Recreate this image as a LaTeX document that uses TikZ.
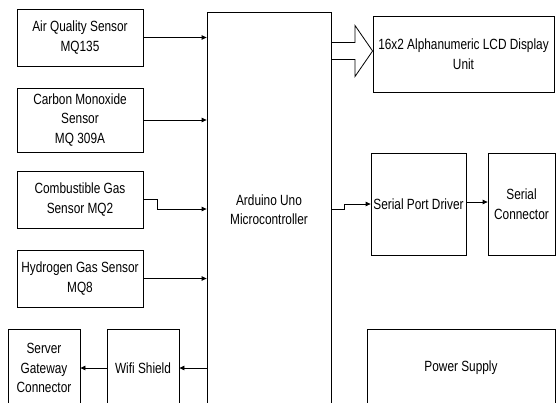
\documentclass[tikz,border=0pt]{standalone}
\usepackage{fontspec}
\setmainfont{Liberation Sans}[FakeStretch=0.80]
\usetikzlibrary{arrows.meta}
\begin{document}
\begin{tikzpicture}[x=1pt,y=-1pt,
  box/.style={draw, line width=0.8pt, rectangle, inner sep=0pt, align=center,
    font=\fontsize{14.8}{19.5}\selectfont},
  arr/.style={line width=0.8pt, -{Triangle[length=5pt,width=4.5pt]}},
  ln/.style={line width=0.8pt}]
\useasboundingbox (0,0) rectangle (556,402);
\clip (0,0) rectangle (556,402);
\fill[white] (0,0) rectangle (556,402);
% sensors
\node[box, minimum width=126, minimum height=57] (air) at (80,37.5) {Air Quality Sensor\\MQ135};
\node[box, minimum width=126, minimum height=64] (co) at (80,120) {Carbon Monoxide\\Sensor\\MQ 309A};
\node[box, minimum width=126, minimum height=57] (comb) at (80,199.5) {Combustible Gas\\Sensor MQ2};
\node[box, minimum width=126, minimum height=57] (hyd) at (80,278.5) {Hydrogen Gas Sensor\\MQ8};
\node[box, minimum width=72, minimum height=78] (srv) at (44,368) {Server\\Gateway\\Connector};
\node[box, minimum width=72, minimum height=78] (wifi) at (143,368) {Wifi Shield};
% controller
\node[box, minimum width=124, minimum height=395] (ard) at (269,209.5) {Arduino Uno\\Microcontroller};
% right side
\node[box, minimum width=181, minimum height=76] (lcd) at (463.5,54) {16x2 Alphanumeric LCD Display\\Unit};
\node[box, minimum width=95, minimum height=102] (spd) at (418.5,204) {Serial Port Driver};
\node[box, minimum width=67, minimum height=102] (sc) at (521.5,204) {Serial\\Connector};
\node[box, minimum width=188, minimum height=78] (ps) at (461,368) {Power Supply};
% sensor connectors
\draw[arr] (air.east) -- (ard.west |- air.east);
\draw[arr] (co.east) -- (ard.west |- co.east);
\draw[arr] (comb.east) -- ++(14,0) -- ++(0,9.5) -- (ard.west |- 0,209);
\draw[arr] (hyd.east) -- (ard.west |- hyd.east);
\draw[arr] (ard.west |- wifi.east) -- (wifi.east);
\draw[arr] (wifi.west) -- (srv.east);
% outputs
\draw[arr] (ard.east |- 0,209) -- ++(13,0) |- (spd.west);
\draw[arr] (spd.east |- 0,202) -- (sc.west |- 0,202);
% hollow bus arrow to LCD
\draw[ln, line join=miter] (ard.east |- 0,42.5) -- (355,42.5) -- (355,25.5)
  -- (lcd.west |- 0,51) -- (355,76.5) -- (355,59.5) -- (ard.east |- 0,59.5);
\end{tikzpicture}
\end{document}
